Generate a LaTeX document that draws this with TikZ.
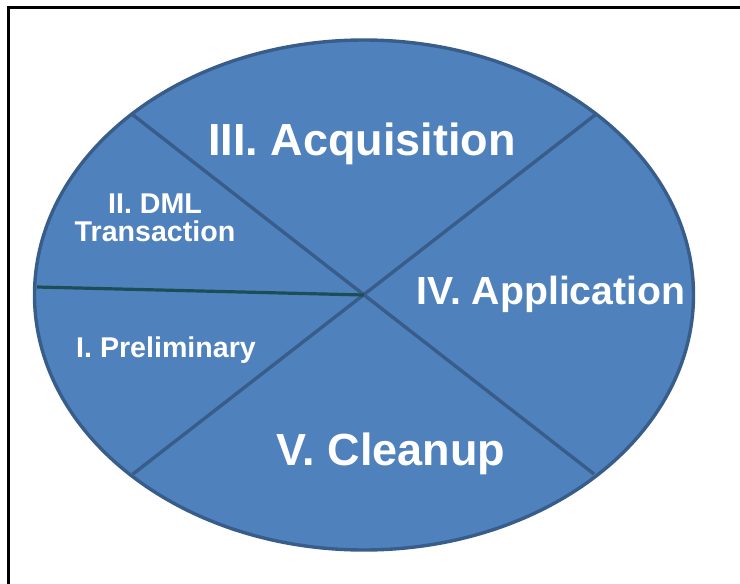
\documentclass[tikz,border=0pt]{standalone}
\usepackage{fontspec}
\setmainfont{Liberation Sans}
\usetikzlibrary{positioning}
\definecolor{pieFill}{RGB}{79,129,189}
\definecolor{pieRim}{RGB}{56,93,138}
\definecolor{pieTeal}{RGB}{28,78,88}
\tikzset{
  pie/ellipse/.style={draw=pieRim, fill=pieFill, line width=1.7pt},
  pie/cut/.style={draw=pieRim, line width=1.7pt},
  pie/cutTeal/.style={draw=pieTeal, line width=1.6pt},
  pie/big/.style={font=\fontsize{22.5}{24}\selectfont\bfseries, text=white,
    inner sep=0pt},
  pie/mid/.style={font=\fontsize{19.6}{22}\selectfont\bfseries, text=white,
    inner sep=0pt},
  pie/small/.style={font=\fontsize{14.3}{14}\selectfont\bfseries, text=white,
    inner sep=0pt, align=center},
  frameline/.style={draw=black, line width=1.5pt}
}
\begin{document}
\begin{tikzpicture}[x=0.5pt, y=-0.5pt]
  \useasboundingbox (0,0) rectangle (740,584);
  \draw[frameline] (8,584) -- (8,7) -- (740,7);

  \coordinate (c) at (364,295);
  \coordinate (nw) at (133,115);
  \coordinate (ne) at (595,115);
  \coordinate (sw) at (133,474);
  \coordinate (se) at (594,474);
  \coordinate (w) at (37,287);

  \path[pie/ellipse] (c) ellipse [x radius=329.5, y radius=255];
  \draw[pie/cut] (nw) -- (se);
  \draw[pie/cut] (ne) -- (sw);
  \draw[pie/cutTeal] (w) -- (c);

  \node[pie/big] (acq) at (362,144) {III. Acquisition};
  \node[pie/mid] (app) at (551,294) {IV. Application};
  \node[pie/big] (cln) at (391,454) {V. Cleanup};
  \node[pie/small] (dml) at (155,218) {II. DML\\Transaction};
  \node[pie/small] (pre) at (166,350) {I. Preliminary};
\end{tikzpicture}
\end{document}
